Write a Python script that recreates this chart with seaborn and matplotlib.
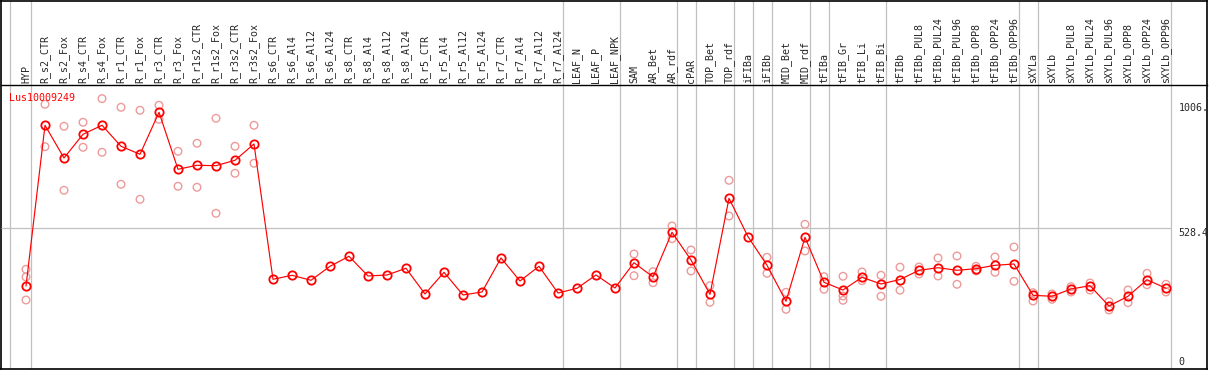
import numpy as np
import pandas as pd
import matplotlib
matplotlib.use("Agg")
import matplotlib.pyplot as plt
import matplotlib.transforms as mtransforms
import seaborn as sns

gene = "Lus10009249"

samples = ["HYP", "R_s2_CTR", "R_s2_Fox", "R_s4_CTR", "R_s4_Fox", "R_r1_CTR", "R_r1_Fox",
           "R_r3_CTR", "R_r3_Fox", "R_r1s2_CTR", "R_r1s2_Fox", "R_r3s2_CTR", "R_r3s2_Fox",
           "R_s6_CTR", "R_s6_Al4", "R_s6_Al12", "R_s6_Al24", "R_s8_CTR", "R_s8_Al4",
           "R_s8_Al12", "R_s8_Al24", "R_r5_CTR", "R_r5_Al4", "R_r5_Al12", "R_r5_Al24",
           "R_r7_CTR", "R_r7_Al4", "R_r7_Al12", "R_r7_Al24", "LEAF_N", "LEAF_P", "LEAF_NPK",
           "SAM", "AR_Bet", "AR_rdf", "cPAR", "TOP_Bet", "TOP_rdf", "iFIBa", "iFIBb",
           "MID_Bet", "MID_rdf", "tFIBa", "tFIB_Gr", "tFIB_Li", "tFIB_Bi", "tFIBb",
           "tFIBb_PUL8", "tFIBb_PUL24", "tFIBb_PUL96", "tFIBb_OPP8", "tFIBb_OPP24", "tFIBb_OPP96",
           "sXYLa", "sXYLb", "sXYLb_PUL8", "sXYLb_PUL24", "sXYLb_PUL96", "sXYLb_OPP8",
           "sXYLb_OPP24", "sXYLb_OPP96"]

# mean expression per sample
means = [314.1, 908.0, 787.1, 874.7, 908.0, 830.4, 800.8, 956.0, 745.4, 760.2, 758.7, 778.6, 838.9,
         338.9, 353.7, 335.2, 386.9, 423.9, 351.1, 354.8, 379.5, 284.6, 364.7, 280.9, 291.9,
         417.6, 332.6, 386.9, 288.2, 305.6, 354.8, 306.7,
         400.2, 347.4, 512.6, 410.2, 283.4, 638.2, 496.3, 390.6, 257.6, 494.1,
         327.8, 299.3, 346.3, 321.5, 338.1, 372.1, 381.7, 372.1, 378.1, 390.6, 395.4,
         279.7, 276.1, 303.0, 315.2, 240.2, 276.1, 337.4, 305.6]

# single replicates (where visible)
replicates = [[375.8, 347.4, 262.4], [985.6, 828.9], [904.3, 667.8], [919.1, 826.7],
              [1006.5, 808.2], [974.5, 690.0], [963.4, 634.5], [981.9, 930.1], [811.9, 682.6],
              [841.5, 678.9], [933.8, 582.8], [830.4, 730.6], [908.0, 767.6],
              [], [], [], [], [], [], [], [], [], [], [], [], [], [], [], [], [], [], [],
              [432.4, 352.2], [367.0, 326.3], [535.8, 488.9], [447.2, 369.6], [315.2, 253.9],
              [704.7, 572.8], [], [420.2, 361.0], [290.8, 228.0], [542.1, 443.5],
              [348.5, 301.9], [350.0, 277.2, 261.3], [365.9, 333.7], [353.7, 276.1],
              [383.6, 298.6], [384.3, 358.5], [417.6, 351.1], [425.0, 320.4], [386.9, 369.6],
              [421.3, 364.7], [458.2, 331.5],
              [289.4, 258.7], [284.6, 265.0], [311.5, 291.9], [325.2, 299.3], [256.1, 225.4],
              [299.3, 252.4], [361.0, 318.9], [320.4, 291.9]]

# last sample of each tissue group (separator drawn after it)
group_ends = ["HYP", "R_r7_Al24", "LEAF_NPK", "AR_rdf", "cPAR", "TOP_rdf", "iFIBa", "iFIBb",
              "MID_rdf", "tFIBa", "tFIB_Bi", "tFIBb_OPP96", "sXYLa", "sXYLb_OPP96"]

mean_df = pd.DataFrame({"sample": samples, "pos": np.arange(len(samples)), "value": means})
rep_df = pd.DataFrame([(i, v) for i, reps in enumerate(replicates) for v in reps],
                      columns=["pos", "value"])

rep_max = rep_df["value"].max()
ytop = rep_max * 1.05
ymid = ytop / 2

sns.set_style("white")
plt.rcParams["font.family"] = ["DejaVu Sans Mono"]
plt.rcParams["font.size"] = 7.2

W, H = 1209, 370
fig = plt.figure(figsize=(W / 100, H / 100), dpi=100)
xlim = (-1.316, 62.158)

# outer frame with group separators
frame = fig.add_axes([1 / W, 1 / H, 1206 / W, 368 / H])
frame.set_xlim(*xlim)
frame.set_ylim(0, 1)
frame.set_xticks([])
frame.set_yticks([])
for s in frame.spines.values():
    s.set_color("black")
    s.set_linewidth(1.2)
sep = [-0.84] + [samples.index(g) + 0.26 for g in group_ends]
for x in sep:
    frame.axvline(x, color="#c0c0c0", linewidth=0.9, zorder=0)

ax = fig.add_axes([1 / W, -1 / H, 1206 / W, 286 / H])
ax.patch.set_alpha(0)
ax.set_xlim(*xlim)
ax.set_ylim(0, ytop)

ax.hlines(ymid, xlim[0], sep[-1], color="#c0c0c0", linewidth=0.9, zorder=0)

sns.scatterplot(data=rep_df, x="pos", y="value", ax=ax, marker="o", s=30,
                facecolor="none", edgecolor="#ee9a9a", linewidth=1.0, zorder=2)
sns.lineplot(data=mean_df, x="pos", y="value", ax=ax, color="red", linewidth=0.85,
             marker="o", markersize=6, markerfacecolor="none", markeredgecolor="red",
             markeredgewidth=1.3, errorbar=None, zorder=3)

ax.set_xlabel("")
ax.set_ylabel("")
ax.set_yticks([])
ax.xaxis.set_ticks_position("top")
ax.set_xticks(mean_df["pos"])
ax.set_xticklabels(samples, rotation=90)
ax.tick_params(axis="x", length=0, pad=1.5, labelsize=7.2)
for side in ["left", "right", "bottom"]:
    ax.spines[side].set_visible(False)
ax.spines["top"].set_color("black")
ax.spines["top"].set_linewidth(1.0)

# value labels on the right
tr = mtransforms.blended_transform_factory(ax.transAxes, ax.transData)
lx = 0.9765
ax.annotate(f"{rep_max:.1f}"[:5], (lx, rep_max), xycoords=tr, xytext=(0, -8.8),
            textcoords="offset points", va="baseline", ha="left", fontsize=7.2)
ax.annotate(f"{ymid:.1f}", (lx, ymid), xycoords=tr, xytext=(0, -5.5),
            textcoords="offset points", va="baseline", ha="left", fontsize=7.2)
ax.annotate("0", (lx, 0), xycoords=tr, xytext=(0, 4.3),
            textcoords="offset points", va="baseline", ha="left", fontsize=7.2)

fig.text(9 / W, 1 - 101 / H, gene, color="red", va="baseline", ha="left", fontsize=7.2)

fig.savefig("out.png", dpi=100)
